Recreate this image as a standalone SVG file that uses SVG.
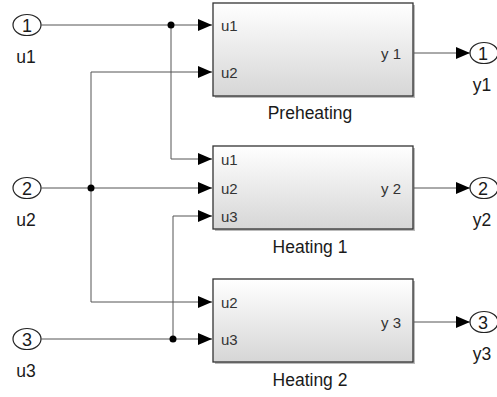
<svg xmlns="http://www.w3.org/2000/svg" width="497" height="397" viewBox="0 0 497 397">
<style>
text{font-family:"Liberation Sans",Arial,sans-serif;fill:#1a1a1a}
.lbl{font-size:17.5px;text-anchor:middle}
.num{font-size:18px;text-anchor:middle}
.port{font-size:15px;fill:#333}
.out{text-anchor:end}
.blk{fill:url(#g);stroke:#333;stroke-width:1.3}
.shadow{fill:#bbb}
.io{fill:#fff;stroke:#222;stroke-width:1.2}
.w{fill:none;stroke:#555;stroke-width:1}
.dot{fill:#000}
</style>
<defs>
<linearGradient id="g" x1="0" y1="0" x2="0" y2="1">
<stop offset="0" stop-color="#ffffff"/>
<stop offset="1" stop-color="#d6d6d6"/>
</linearGradient>
<marker id="a" markerUnits="userSpaceOnUse" markerWidth="14" markerHeight="12" refX="14" refY="6" orient="auto">
<path d="M0,0 L14,6 L0,12 Z" fill="#000"/>
</marker>
</defs>
<g id="in1"><ellipse class="io" cx="27" cy="25" rx="14" ry="10.5"/><text class="num" x="27" y="31.5">1</text><text class="lbl" x="26" y="63">u1</text></g>
<g id="in2"><ellipse class="io" cx="27" cy="188" rx="14" ry="10.5"/><text class="num" x="27" y="194.5">2</text><text class="lbl" x="26" y="226">u2</text></g>
<g id="in3"><ellipse class="io" cx="27" cy="339" rx="14" ry="10.5"/><text class="num" x="27" y="345.5">3</text><text class="lbl" x="26" y="377">u3</text></g>
<g id="preheating">
<rect class="shadow" x="215" y="5" width="200" height="93"/>
<rect class="blk" x="213" y="3" width="200" height="93"/>
<text class="port" x="221" y="30.5">u1</text>
<text class="port" x="221" y="77.5">u2</text>
<text class="port out" x="401" y="58.5">y 1</text>
<text class="lbl" x="310" y="119">Preheating</text>
</g>
<g id="heating1">
<rect class="shadow" x="215" y="148" width="200" height="83"/>
<rect class="blk" x="213" y="146" width="200" height="83"/>
<text class="port" x="221" y="164.5">u1</text>
<text class="port" x="221" y="193.5">u2</text>
<text class="port" x="221" y="221.5">u3</text>
<text class="port out" x="401" y="193.5">y 2</text>
<text class="lbl" x="310" y="253">Heating 1</text>
</g>
<g id="heating2">
<rect class="shadow" x="215" y="281" width="200" height="83"/>
<rect class="blk" x="213" y="279" width="200" height="83"/>
<text class="port" x="221" y="307.5">u2</text>
<text class="port" x="221" y="344.5">u3</text>
<text class="port out" x="401" y="327.5">y 3</text>
<text class="lbl" x="310" y="386">Heating 2</text>
</g>
<g id="out1"><ellipse class="io" cx="484" cy="53" rx="14" ry="10.5"/><text class="num" x="483" y="59.5">1</text><text class="lbl" x="482" y="91">y1</text></g>
<g id="out2"><ellipse class="io" cx="484" cy="188" rx="14" ry="10.5"/><text class="num" x="483" y="194.5">2</text><text class="lbl" x="482" y="226">y2</text></g>
<g id="out3"><ellipse class="io" cx="484" cy="322" rx="14" ry="10.5"/><text class="num" x="483" y="328.5">3</text><text class="lbl" x="482" y="360">y3</text></g>
<g id="connectors">
<path class="w" marker-end="url(#a)" d="M41,25 H212"/>
<path class="w" marker-end="url(#a)" d="M171,25 V159 H212"/>
<path class="w" marker-end="url(#a)" d="M41,188 H212"/>
<path class="w" marker-end="url(#a)" d="M91,188 V72 H212"/>
<path class="w" marker-end="url(#a)" d="M91,188 V302 H212"/>
<path class="w" marker-end="url(#a)" d="M41,339 H212"/>
<path class="w" marker-end="url(#a)" d="M173,339 V216 H212"/>
<path class="w" marker-end="url(#a)" d="M414,53 H470"/>
<path class="w" marker-end="url(#a)" d="M414,188 H470"/>
<path class="w" marker-end="url(#a)" d="M414,322 H470"/>
<circle class="dot" cx="171" cy="25" r="3.5"/>
<circle class="dot" cx="91" cy="188" r="3.5"/>
<circle class="dot" cx="173" cy="339" r="3.5"/>
</g>
</svg>
